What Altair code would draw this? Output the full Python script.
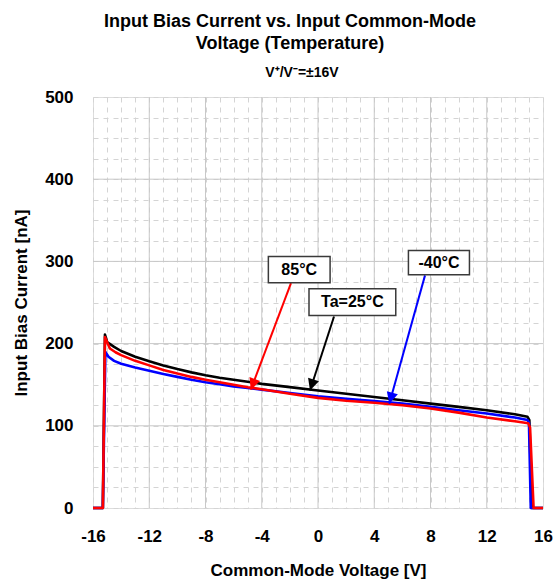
import math
import altair as alt
import pandas as pd

# ---------------- data ----------------
v_25 = [-16, -15.3, -15.15, -15.0, -14.5, -14, -13, -12, -11, -10, -9, -8, -7, -6, -5, -4, -2, 0, 2, 4, 6, 8, 10, 12, 14, 14.9, 15.03, 15.2, 16]
i_25 = [0, 0, 211, 202, 196, 191, 184, 178.5, 173.5, 169, 165, 161.5, 158.5, 156, 153.5, 151, 147, 143, 139, 135, 131, 127, 123, 119, 114, 111, 107, 0, 0]

v_m40 = [-16, -15.3, -15.12, -14.9, -14.5, -14, -13, -12, -11, -10, -9, -8, -7, -6, -5, -4, -2, 0, 2, 4, 6, 8, 10, 12, 14, 14.9, 15.0, 15.13, 16]
i_m40 = [0, 0, 190, 184, 179, 175.5, 171, 167, 163, 159.5, 156, 153, 150.5, 148, 146, 144, 140, 136, 133, 130, 127, 123, 119, 115, 110, 107, 104, 0, 0]

v_85 = [-16, -15.3, -15.15, -14.8, -14.4, -14, -13, -12, -11, -10, -9, -8, -7, -6, -5, -4, -2, 0, 2, 4, 6, 8, 10, 12, 14, 14.95, 15.08, 15.33, 16]
i_85 = [0, 0, 208, 194, 189.5, 186, 179, 173.5, 168, 163.5, 159.5, 156, 153, 150, 147, 144.5, 139, 134, 130.5, 128, 125, 121, 116, 110, 105.5, 103, 98, 0, 0]

series_names = ["Ta=25°C", "-40°C", "85°C"]
series_colors = ["#000000", "#0000ff", "#ff0000"]

x_domain = [-16, 16]
y_domain = [0, 500]
x_minor = list(range(-16, 17, 1))
y_minor = list(range(0, 501, 25))
x_major = [-12, -8, -4, 0, 4, 8, 12]
y_major = [100, 200, 300, 400]

title_lines = ["Input Bias Current vs. Input Common-Mode", "Voltage (Temperature)"]
subtitle_text = "V⁺/V⁻=±16V"

# annotations
ann_text = ["85°C", "Ta=25°C", "-40°C"]
ann_color = ["#ff0000", "#000000", "#0000ff"]
box_x0 = [-3.53, -0.64, 6.43]
box_x1 = [0.86, 5.53, 10.77]
box_y0 = [274.1, 234.3, 283.8]
box_y1 = [306.1, 266.8, 313.4]
arrow_x0 = [-1.92, 1.14, 7.61]
arrow_y0 = [273.6, 233.0, 283.0]
arrow_x1 = [-4.78, -0.57, 5.07]
arrow_y1 = [143.9, 143.0, 126.8]

W, H = 450, 411
FONT = "Liberation Sans"

# ---------------- helpers ----------------
x_axis = alt.Axis(values=x_minor, labelExpr="datum.value % 4 == 0 ? toString(datum.value) : ''",
                  grid=True, gridDash=[5, 5], gridColor="#d4d4d4", gridWidth=1,
                  ticks=False, domain=False, labelFont=FONT, labelFontSize=17,
                  labelFontWeight="bold", labelColor="#000", labelPadding=20,
                  labelFlush=False, labelOverlap=False,
                  title="Common-Mode Voltage [V]", titleFont=FONT, titleFontSize=17,
                  titleFontWeight="bold", titleColor="#000", titlePadding=18)
y_axis = alt.Axis(values=y_minor, labelExpr="datum.value % 100 == 0 ? toString(datum.value) : ''",
                  grid=True, gridDash=[5, 5], gridColor="#d4d4d4", gridWidth=1,
                  ticks=False, domain=False, labelFont=FONT, labelFontSize=17,
                  labelFontWeight="bold", labelColor="#000", labelPadding=20,
                  labelFlush=False, labelOverlap=False,
                  title="Input Bias Current [nA]", titleFont=FONT, titleFontSize=17,
                  titleFontWeight="bold", titleColor="#000", titlePadding=14)
xs = alt.Scale(domain=x_domain, nice=False, zero=False)
ys = alt.Scale(domain=y_domain, nice=False, zero=False)


def X(f):
    return alt.X(f, type="quantitative", scale=xs, axis=x_axis)


def Y(f):
    return alt.Y(f, type="quantitative", scale=ys, axis=y_axis)


layers = []

# major grid
gx = pd.DataFrame({"x": x_major})
gy = pd.DataFrame({"y": y_major})
layers.append(alt.Chart(gx).mark_rule(color="#c8c8c8", strokeWidth=1).encode(x=X("x")))
layers.append(alt.Chart(gy).mark_rule(color="#c8c8c8", strokeWidth=1).encode(y=Y("y")))

# curves
for name, vv, ii, col in zip(series_names, [v_25, v_m40, v_85], [i_25, i_m40, i_85], series_colors):
    d = pd.DataFrame({"v": vv, "i": ii, "idx": range(len(vv))})
    layers.append(
        alt.Chart(d).mark_line(color=col, strokeWidth=2.6, strokeJoin="round")
        .encode(x=X("v"), y=Y("i"), order="idx:Q")
    )

# annotation arrows
px_x = W / (x_domain[1] - x_domain[0])
px_y = H / (y_domain[1] - y_domain[0])
adf = pd.DataFrame({
    "text": ann_text, "color": ann_color,
    "bx0": box_x0, "bx1": box_x1, "by0": box_y0, "by1": box_y1,
    "ax0": arrow_x0, "ay0": arrow_y0, "ax1": arrow_x1, "ay1": arrow_y1,
})
adf["tx"] = (adf["bx0"] + adf["bx1"]) / 2
adf["ty"] = (adf["by0"] + adf["by1"]) / 2
angles = []
for r in adf.itertuples():
    dx = (r.ax1 - r.ax0) * px_x
    dy = -(r.ay1 - r.ay0) * px_y
    angles.append((math.degrees(math.atan2(dx, -dy)) + 360) % 360)
adf["angle"] = angles

cscale = alt.Scale(domain=ann_color, range=ann_color)
layers.append(
    alt.Chart(adf).mark_rule(strokeWidth=2).encode(
        x=X("ax0"), y=Y("ay0"), x2="ax1", y2="ay1",
        color=alt.Color("color:N", scale=cscale, legend=None))
)
layers.append(
    alt.Chart(adf).mark_point(shape="M0,0 L-0.5,1 L0.5,1 Z", filled=True, size=520, opacity=1, strokeWidth=0)
    .encode(x=X("ax1"), y=Y("ay1"), angle=alt.Angle("angle:Q", scale=None),
            color=alt.Color("color:N", scale=cscale, legend=None))
)
layers.append(
    alt.Chart(adf).mark_rect(fill="white", stroke="#3a3a3a", strokeWidth=1.5)
    .encode(x=X("bx0"), x2="bx1", y=Y("by0"), y2="by1")
)
layers.append(
    alt.Chart(adf).mark_text(font=FONT, fontSize=16, fontWeight="bold", color="#000", baseline="middle", align="center")
    .encode(x=X("tx"), y=Y("ty"), text="text:N")
)

# subtitle line (supply voltage)
sub_df = pd.DataFrame({"t": [subtitle_text]})
layers.append(
    alt.Chart(sub_df).mark_text(font=FONT, fontSize=14, fontWeight="bold", color="#000",
                                align="center", baseline="alphabetic")
    .encode(x=alt.value(209), y=alt.value(-20), text="t:N")
)

chart = alt.layer(*layers).properties(
    width=W, height=H,
    title=alt.TitleParams(
        text=title_lines,
        font=FONT, fontSize=18, fontWeight="bold", color="#000", lineHeight=22,
        anchor="middle", dx=-28, offset=13,
    ),
    autosize=alt.AutoSizeParams(type="none"),
    padding={"left": 93, "top": 97, "right": 14, "bottom": 73},
).configure_view(stroke="#000", strokeWidth=2.5).configure(background="white")

chart.save("out.html", embed_options={"renderer": "svg", "actions": False})
